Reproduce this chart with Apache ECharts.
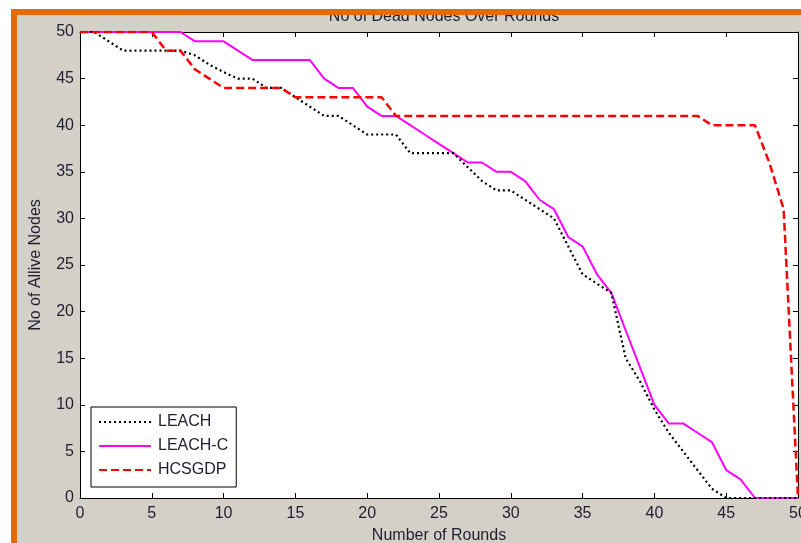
<!DOCTYPE html>
<html>
<head>
<meta charset="utf-8">
<style>
html,body{margin:0;padding:0;background:#fff;}
#chart{width:801px;height:543px;}
</style>
<script src="https://cdn.jsdelivr.net/npm/echarts@6/dist/echarts.min.js"></script>
</head>
<body>
<div id="chart"></div>
<script>
const rounds = [0,1,2,3,4,5,6,7,8,9,10,11,12,13,14,15,16,17,18,19,20,21,22,23,24,25,26,27,28,29,30,31,32,33,34,35,36,37,38,39,40,41,42,43,44,45,46,47,48,49,50];
const leach = [50,50,49,48,48,48,48,48,47.5,46.5,45.7,45,45,44,44,43,42,41,41,40,39,39,39,37,37,37,37,35.5,34,33,33,32,31,30,27,24,23,22,15,12.5,9.5,7,5,3,1,0,0,0,0,0,0];
const leachC = [50,50,50,50,50,50,50,50,49,49,49,48,47,47,47,47,47,45,44,44,42,41,41,40,39,38,37,36,36,35,35,34,32,31,28,27,24,22,18,14,10,8,8,7,6,3,2,0,0,0,0];
const hcsgdp = [50,50,50,50,50,50,48,48,46,45,44,44,44,44,44,43,43,43,43,43,43,43,41,41,41,41,41,41,41,41,41,41,41,41,41,41,41,41,41,41,41,41,41,41,40,40,40,40,36,31,0];
const seriesNames = ['LEACH','LEACH-C','HCSGDP'];
const xTicks = [0,5,10,15,20,25,30,35,40,45,50];
const yTicks = [0,5,10,15,20,25,30,35,40,45,50];

const pair = (ys) => rounds.map((r, i) => [r, ys[i]]);
const txt = '#1e1e32';
const font = 'Liberation Sans, Arial, sans-serif';

const chart = echarts.init(document.getElementById('chart'), null, {renderer: 'canvas'});
const baseX = {
  type: 'value', min: 0, max: 50, interval: 5,
  splitLine: {show: false},
  axisLine: {show: true, onZero: false, lineStyle: {color: '#000', width: 1}},
  axisTick: {show: true, inside: true, length: 5, lineStyle: {color: '#000'}},
};
const baseY = {
  type: 'value', min: 0, max: 50, interval: 5,
  splitLine: {show: false},
  axisLine: {show: true, onZero: false, lineStyle: {color: '#000', width: 1}},
  axisTick: {show: true, inside: true, length: 5, lineStyle: {color: '#000'}},
};
chart.setOption({
  animation: false,
  backgroundColor: '#d4d0c8',
  title: {
    text: 'No of Dead Nodes Over Rounds',
    left: 439, textAlign: 'center', top: 4,
    textStyle: {fontFamily: font, fontSize: 16, fontWeight: 'normal', color: txt}
  },
  graphic: [
    {type: 'rect', z: 100, shape: {x: 0, y: 0, width: 801, height: 9}, style: {fill: '#ffffff'}},
    {type: 'rect', z: 100, shape: {x: 0, y: 0, width: 11, height: 543}, style: {fill: '#ffffff'}},
    {type: 'rect', z: 101, shape: {x: 11, y: 9, width: 790, height: 6}, style: {fill: '#e36c0a'}},
    {type: 'rect', z: 101, shape: {x: 11, y: 9, width: 6, height: 534}, style: {fill: '#e36c0a'}}
  ],
  grid: {left: 80, top: 32, right: 3, bottom: 45, show: true, backgroundColor: '#ffffff', borderWidth: 0,
         containLabel: false, outerBoundsMode: 'none'},
  legend: {
    orient: 'vertical', left: 91, top: 407,
    data: seriesNames,
    backgroundColor: '#ffffff', borderColor: '#000', borderWidth: 1,
    padding: [7, 8, 9, 7],
    itemWidth: 52, itemHeight: 14, itemGap: 8,
    itemStyle: {color: 'rgba(0,0,0,0)', borderWidth: 0, opacity: 0},
    textStyle: {fontFamily: font, fontSize: 16, color: txt, padding: [0, 0, 0, 2]}
  },
  xAxis: [
    Object.assign({}, baseX, {
      position: 'bottom',
      name: 'Number of Rounds', nameLocation: 'middle', nameGap: 30,
      nameTextStyle: {fontFamily: font, fontSize: 16, color: txt},
      axisLabel: {fontFamily: font, fontSize: 16, color: txt, margin: 8, customValues: xTicks}
    }),
    Object.assign({}, baseX, {position: 'top', axisLabel: {show: false}})
  ],
  yAxis: [
    Object.assign({}, baseY, {
      position: 'left',
      name: 'No of Allive Nodes', nameLocation: 'middle', nameGap: 36,
      nameTextStyle: {fontFamily: font, fontSize: 16, color: txt},
      axisLabel: {fontFamily: font, fontSize: 16, color: txt, margin: 6, customValues: yTicks}
    }),
    Object.assign({}, baseY, {position: 'right', axisLabel: {show: false}})
  ],
  series: [
    {name: seriesNames[0], type: 'line', data: pair(leach), symbol: 'none', z: 3,
     lineStyle: {color: '#000000', width: 2.2, type: [2, 3]}, itemStyle: {color: '#000000'}},
    {name: seriesNames[1], type: 'line', data: pair(leachC), symbol: 'none', z: 2,
     lineStyle: {color: '#ff00ff', width: 2}, itemStyle: {color: '#ff00ff'}},
    {name: seriesNames[2], type: 'line', data: pair(hcsgdp), symbol: 'none', z: 4,
     lineStyle: {color: '#ff0000', width: 2.5, type: [8, 4]}, itemStyle: {color: '#ff0000'}}
  ]
});
</script>
</body>
</html>
